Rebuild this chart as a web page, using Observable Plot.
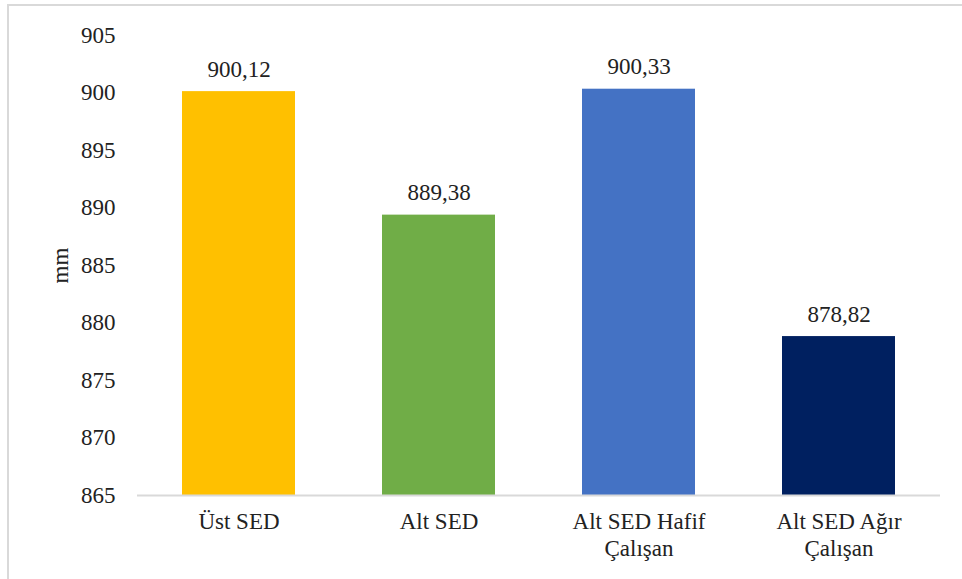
<!DOCTYPE html>
<html>
<head>
<meta charset="utf-8">
<script src="https://cdn.jsdelivr.net/npm/d3@7"></script>
<script src="https://cdn.jsdelivr.net/npm/@observablehq/plot@0.6"></script>
<style>
  html, body { margin: 0; padding: 0; background: #fff; }
  #wrap { position: relative; width: 962px; height: 579px; overflow: hidden; }
  #frame { position: absolute; left: 7px; top: 4px; width: 1000px; height: 700px;
           border-top: 2px solid #d9d9d9; border-left: 2px solid #d9d9d9; box-sizing: border-box; }
  #chart { position: absolute; left: 0; top: 0; }
  #chart svg, #chart svg text { font-family: "Liberation Serif", "Times New Roman", serif !important; }
</style>
</head>
<body>
<div id="wrap"><div id="frame"></div><div id="chart"></div></div>
<script>
const categories = ["Üst SED", "Alt SED", "Alt SED Hafif\nÇalışan", "Alt SED Ağır\nÇalışan"];
const values = [900.12, 889.38, 900.33, 878.82];
const colors = ["#FFC000", "#70AD47", "#4472C4", "#002060"];
const yTicks = [865, 870, 875, 880, 885, 890, 895, 900, 905];
const yLabel = "mm";

const data = categories.map((c, i) => ({category: c, value: values[i], color: colors[i]}));
const fmt = v => v.toFixed(2).replace(".", ",");

const chart = Plot.plot({
  width: 962,
  height: 579,
  marginLeft: 137,
  marginRight: 22,
  marginTop: 35,
  marginBottom: 84,
  style: {fontSize: "23px", color: "#000", background: "transparent"},
  x: {domain: categories, paddingInner: 0.437, paddingOuter: 0.2185, label: null},
  y: {domain: [yTicks[0], yTicks[yTicks.length - 1]], ticks: yTicks, label: null},
  marks: [
    Plot.barY(data, {x: "category", y1: () => yTicks[0], y2: "value", fill: "color"}),
    Plot.ruleY([yTicks[0]], {stroke: "#d9d9d9", strokeWidth: 2}),
    Plot.text(data, {x: "category", y: "value", text: d => fmt(d.value), lineAnchor: "bottom", dy: -15, fill: "#222", fontFamily: "Liberation Serif"}),
    Plot.axisY({ticks: yTicks, tickSize: 0, tickPadding: 22, label: yLabel, labelAnchor: "center", labelOffset: 86, labelArrow: "none", fill: "#222", fontFamily: "Liberation Serif"}),
    Plot.axisX({tickSize: 0, tickPadding: 15, label: null, lineHeight: 1.15, fill: "#222", fontFamily: "Liberation Serif"})
  ]
});
document.getElementById("chart").appendChild(chart);
</script>
</body>
</html>
